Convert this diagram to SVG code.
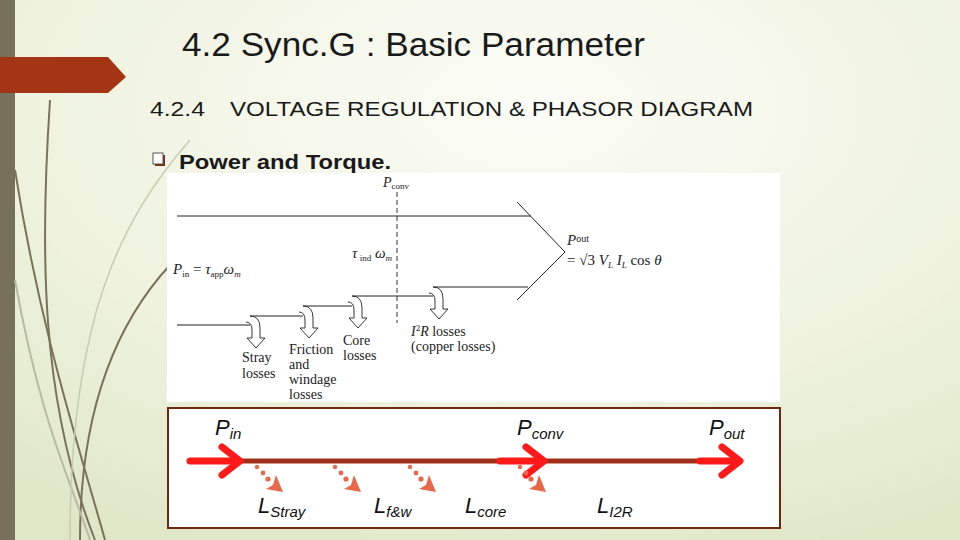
<svg xmlns="http://www.w3.org/2000/svg" width="960" height="540" viewBox="0 0 960 540">
<defs>
<radialGradient id="bg" cx="0.55" cy="0.2" r="0.9">
<stop offset="0" stop-color="#fbfcf6"/><stop offset="0.6" stop-color="#eef2de"/><stop offset="1" stop-color="#dfe7c6"/>
</radialGradient>
<g id="hook"><path d="M0,0 q10,0 10,12 l0,10 l5,0 l-9,10 l-9,-10 l5,0 l0,-8 q0,-8 -6,-8" fill="none" stroke="#222" stroke-width="0.9"/></g>
<g id="dots" fill="#e8694a"><circle cx="0" cy="0" r="2.2"/><circle cx="6" cy="6" r="2.4"/><circle cx="11" cy="12" r="2.6"/><path d="M9,22 L26,25 L19,8 L16,18 Z"/></g>
<g id="chev"><path d="M0,-14 L18,0 L0,14" fill="none" stroke="#ff1a1a" stroke-width="7" stroke-linecap="round" stroke-linejoin="round"/></g>
</defs>
<style>
.t{font-family:"Liberation Sans",Arial,sans-serif;fill:#1a1a1a}
.s{font-family:"Liberation Serif","Times New Roman",serif;fill:#222}
.b{font-family:"Liberation Sans",Arial,sans-serif;font-style:italic;fill:#111}
.ln{stroke:#222;stroke-width:1;fill:none}
</style>
<rect width="960" height="540" fill="url(#bg)"/>
<rect width="15" height="540" fill="#77705a"/>
<g fill="none" stroke="#7a735a" stroke-width="2">
<path d="M50,100 C40,250 40,400 95,540"/>
<path d="M15,170 C40,330 80,450 105,540"/>
<path d="M170,265 C110,330 80,420 80,540" />
<path d="M15,280 C40,420 70,480 90,540" stroke="#b9bba0"/>
<path d="M190,140 C120,220 70,320 70,540" stroke="#c8ccb0" stroke-width="1.5"/>
</g>
<polygon points="0,57 108,57 126,77 108,93 0,93" fill="#a33414"/>
<g id="title">
<text class="t" x="182" y="56" font-size="33" textLength="463" lengthAdjust="spacingAndGlyphs">4.2 Sync.G : Basic Parameter</text>
<text class="t" x="150" y="116" font-size="21" textLength="55" lengthAdjust="spacingAndGlyphs">4.2.4</text>
<text class="t" x="230" y="116" font-size="21" textLength="523" lengthAdjust="spacingAndGlyphs">VOLTAGE REGULATION &amp; PHASOR DIAGRAM</text>
<rect x="155" y="155" width="10" height="11" fill="#7a2a10"/>
<rect x="153" y="153" width="10" height="11" fill="#fff" stroke="#555" stroke-width="1"/>
<text class="t" x="179" y="169" font-size="20" font-weight="bold" textLength="212" lengthAdjust="spacingAndGlyphs">Power and Torque.</text>
</g>
<g id="figure">
<rect x="167" y="173" width="613" height="229" fill="#fff"/>
<line class="ln" x1="177" y1="216" x2="531" y2="216" stroke="#999"/>
<polyline class="ln" points="517,202 565,252 517,300"/>
<line x1="397" y1="192" x2="397" y2="323" stroke="#333" stroke-dasharray="5,3"/>
<polyline class="ln" points="177,325 250,325"/>
<polyline class="ln" points="250,316 303,316"/>
<polyline class="ln" points="303,306 352,306"/>
<polyline class="ln" points="352,296 433,296"/>
<polyline class="ln" points="433,287 528,287"/>
<use href="#hook" x="250" y="316"/>
<use href="#hook" x="303" y="306"/>
<use href="#hook" x="352" y="296"/>
<use href="#hook" x="433" y="287"/>
<text class="s" x="383" y="187" font-size="14" font-style="italic">P<tspan font-size="9" font-style="normal" dy="2">conv</tspan></text>
<text class="s" x="352" y="258" font-size="15" font-style="italic">τ<tspan font-size="9" font-style="normal" dy="3"> ind</tspan><tspan dy="-3"> ω</tspan><tspan font-size="9" dy="3">m</tspan></text>
<text class="s" x="173" y="274" font-size="15"><tspan font-style="italic">P</tspan><tspan font-size="9" dy="3">in</tspan><tspan dy="-3"> = </tspan><tspan font-style="italic">τ</tspan><tspan font-size="9" dy="3">app</tspan><tspan dy="-3" font-style="italic">ω</tspan><tspan font-size="9" dy="3" font-style="italic">m</tspan></text>
<text class="s" x="567" y="245" font-size="15" font-style="italic">P<tspan font-size="10" font-style="normal" dy="-3">out</tspan></text>
<text class="s" x="567" y="265" font-size="15">= √3 <tspan font-style="italic">V</tspan><tspan font-size="9" dy="3" font-style="italic">L</tspan><tspan dy="-3" font-style="italic"> I</tspan><tspan font-size="9" dy="3" font-style="italic">L</tspan><tspan dy="-3"> cos </tspan><tspan font-style="italic">θ</tspan></text>
<g class="s" font-size="14">
<text x="242" y="362">Stray</text><text x="242" y="378">losses</text>
<text x="289" y="354">Friction</text><text x="289" y="369">and</text><text x="289" y="384">windage</text><text x="289" y="399">losses</text>
<text x="343" y="345">Core</text><text x="343" y="360">losses</text>
<text x="411" y="336"><tspan font-style="italic">I</tspan><tspan font-size="9" dy="-5">2</tspan><tspan dy="5" font-style="italic">R</tspan> losses</text>
<text x="411" y="351">(copper losses)</text>
</g>
</g>
<g id="flow">
<rect x="168" y="408" width="612" height="120" fill="#fff" stroke="#6b2a10" stroke-width="2"/>
<line x1="190" y1="461" x2="735" y2="461" stroke="#a0301a" stroke-width="5"/>
<line x1="190" y1="461" x2="236" y2="461" stroke="#ff1a1a" stroke-width="7" stroke-linecap="round"/>
<line x1="500" y1="461" x2="542" y2="461" stroke="#ff1a1a" stroke-width="7" stroke-linecap="round"/>
<line x1="700" y1="461" x2="736" y2="461" stroke="#ff1a1a" stroke-width="7" stroke-linecap="round"/>
<use href="#chev" x="222" y="461"/>
<use href="#chev" x="526" y="461"/>
<use href="#chev" x="722" y="461"/>
<use href="#dots" x="257" y="467"/>
<use href="#dots" x="335" y="467"/>
<use href="#dots" x="410" y="467"/>
<use href="#dots" x="520" y="467"/>
<text class="b" x="215" y="435" font-size="22">P<tspan font-size="15" dy="4">in</tspan></text>
<text class="b" x="517" y="435" font-size="22">P<tspan font-size="15" dy="4">conv</tspan></text>
<text class="b" x="709" y="435" font-size="22">P<tspan font-size="15" dy="4">out</tspan></text>
<text class="b" x="258" y="513" font-size="22">L<tspan font-size="15" dy="4">Stray</tspan></text>
<text class="b" x="374" y="513" font-size="22">L<tspan font-size="15" dy="4">f&amp;w</tspan></text>
<text class="b" x="465" y="513" font-size="22">L<tspan font-size="15" dy="4">core</tspan></text>
<text class="b" x="597" y="513" font-size="22">L<tspan font-size="15" dy="4">I2R</tspan></text>
</g>
</svg>
